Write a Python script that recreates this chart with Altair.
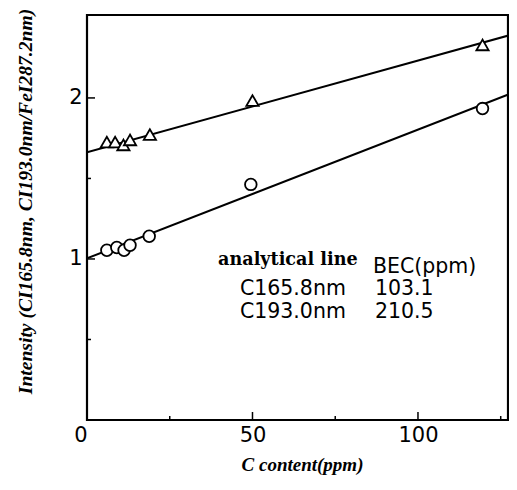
import altair as alt
import pandas as pd

# Data
tri_x = [6, 8.5, 11, 13, 19, 50, 119.5]
tri_y = [1.726, 1.726, 1.708, 1.739, 1.773, 1.984, 2.329]
circ_x = [6, 9, 11.2, 13, 18.8, 49.5, 119.5]
circ_y = [1.054, 1.071, 1.054, 1.085, 1.141, 1.463, 1.934]
fit_x = [0, 129]
fit_tri = [1.663, 2.397]
fit_circ = [1.004, 2.035]

x_major = [50, 100]
x_minor = [25, 75, 125]
y_major = [1, 2]
y_minor = [0.5, 1.5]
x_labels = [0, 50, 100]
y_labels = [1, 2]

ann_head = ["analytical line"]
ann_head_x = [39.6]
ann_head_y = [0.961]
ann_text = ["BEC(ppm)", "C165.8nm", "103.1", "C193.0nm", "210.5"]
ann_x = [86.4, 46.2, 87.0, 46.2, 87.0]
ann_y = [0.911, 0.775, 0.775, 0.632, 0.632]

W, H = 421, 405
xs = alt.Scale(domain=[0, 127.2], nice=False, zero=False)
ys = alt.Scale(domain=[0, 2.515], nice=False, zero=False)

x_axis = alt.Axis(
    values=x_labels, title="C content(ppm)", grid=False, domain=False, ticks=False,
    labelFont="DejaVu Sans", labelFontSize=21, labelColor="black", labelPadding=4,
    labelAlign={"condition": {"test": "datum.value == 0", "value": "right"}, "value": "center"},
    titleFont="Liberation Serif", titleFontStyle="italic", titleFontWeight="bold",
    titleFontSize=19, titleColor="black", titleX=215, titleY=44,
    titleBaseline="middle", titleAlign="center",
)
y_axis = alt.Axis(
    values=y_labels, title="Intensity (CI165.8nm, CI193.0nm/FeI287.2nm)",
    grid=False, domain=False, ticks=False,
    labelFont="DejaVu Sans", labelFontSize=21, labelColor="black", labelPadding=5,
    titleFont="Liberation Serif", titleFontStyle="italic", titleFontWeight="bold",
    titleFontSize=19.6, titleColor="black", titleAngle=270, titleX=-62, titleY=186,
    titleBaseline="middle", titleAlign="center",
)

def X(f):
    return alt.X(f, type="quantitative", scale=xs, axis=x_axis)

def Y(f):
    return alt.Y(f, type="quantitative", scale=ys, axis=y_axis)

df_tri = pd.DataFrame({"x": tri_x, "y": tri_y})
df_circ = pd.DataFrame({"x": circ_x, "y": circ_y})
df_fit = pd.DataFrame({"x": fit_x, "tri": fit_tri, "circ": fit_circ})

line_tri = alt.Chart(df_fit).mark_line(color="black", strokeWidth=2, clip=True).encode(x=X("x"), y=Y("tri"))
line_circ = alt.Chart(df_fit).mark_line(color="black", strokeWidth=2, clip=True).encode(x=X("x"), y=Y("circ"))

pts_tri = alt.Chart(df_tri).mark_point(
    shape="triangle-up", size=150, filled=True, fill="white", stroke="black", strokeWidth=1.8, opacity=1
).encode(x=X("x"), y=Y("y"))
pts_circ = alt.Chart(df_circ).mark_point(
    shape="circle", size=135, filled=True, fill="white", stroke="black", strokeWidth=1.8, opacity=1
).encode(x=X("x"), y=Y("y"))

xt_major = alt.Chart(pd.DataFrame({"v": x_major})).mark_rule(color="black", strokeWidth=1.5).encode(
    x=X("v"), y=alt.value(H), y2=alt.value(H - 8))
xt_minor = alt.Chart(pd.DataFrame({"v": x_minor})).mark_rule(color="black", strokeWidth=1.5).encode(
    x=X("v"), y=alt.value(H), y2=alt.value(H - 4))
yt_major = alt.Chart(pd.DataFrame({"v": y_major})).mark_rule(color="black", strokeWidth=1.5).encode(
    y=Y("v"), x=alt.value(0), x2=alt.value(8))
yt_minor = alt.Chart(pd.DataFrame({"v": y_minor})).mark_rule(color="black", strokeWidth=1.5).encode(
    y=Y("v"), x=alt.value(0), x2=alt.value(4))

head = alt.Chart(pd.DataFrame({"t": ann_head, "x": ann_head_x, "y": ann_head_y})).mark_text(
    font="DejaVu Serif", fontWeight="bold", fontSize=17.6, align="left", baseline="alphabetic", color="black"
).encode(x=X("x"), y=Y("y"), text="t:N")
body = alt.Chart(pd.DataFrame({"t": ann_text, "x": ann_x, "y": ann_y})).mark_text(
    font="DejaVu Sans", fontSize=20.5, align="left", baseline="alphabetic", color="black"
).encode(x=X("x"), y=Y("y"), text="t:N")

chart = alt.layer(
    line_tri, line_circ, pts_tri, pts_circ, xt_major, xt_minor, yt_major, yt_minor, head, body
).properties(
    width=W, height=H,
    padding={"left": 79, "top": 7, "right": 1, "bottom": 56},
    autosize=alt.AutoSizeParams(type="none"),
    background="white",
).configure_view(stroke="black", strokeWidth=2.2)

chart.save("out.html", embed_options={"renderer": "svg", "actions": False})
